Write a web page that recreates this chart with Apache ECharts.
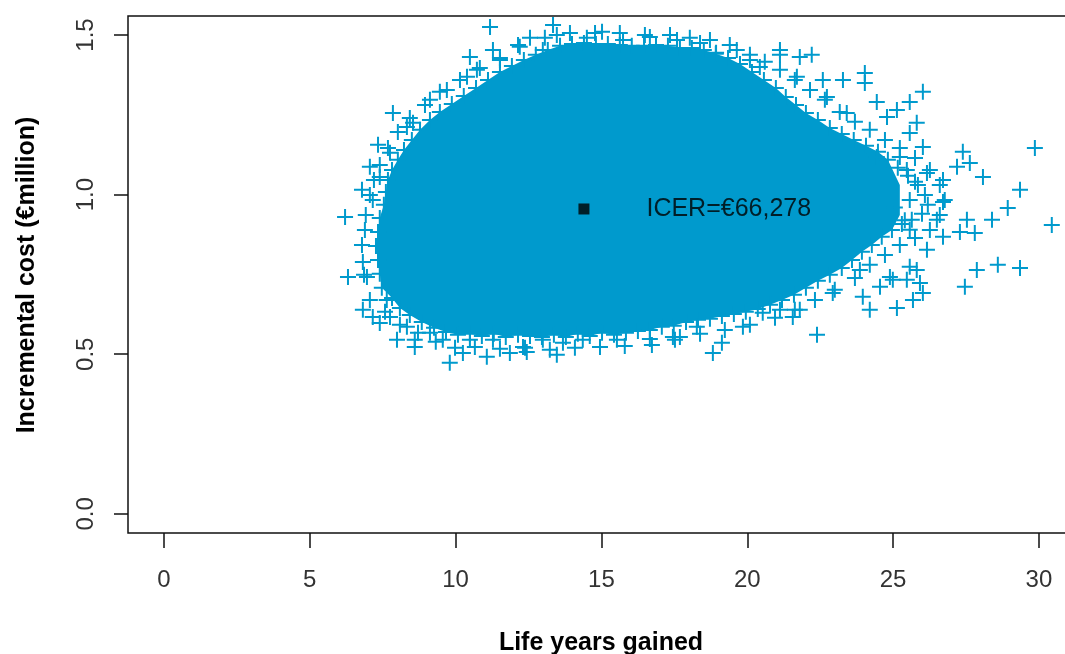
<!DOCTYPE html>
<html>
<head>
    <meta charset="UTF-8">
    <script src="https://cdn.jsdelivr.net/npm/echarts@6/dist/echarts.min.js"></script>
    <style>
        html, body { margin: 0; padding: 0; background: #fff; }
    </style>
</head>
<body>
    <div id="main" style="width: 1065px; height: 654px;"></div>
    <script>
        // ---- data ----
        var xTicks = [0, 5, 10, 15, 20, 25, 30];
        var yTicks = [0, 0.5, 1.0, 1.5];

        // outline of the solid, saturated part of the cloud (life years, cost)
        var coreX = [7.54, 7.40, 7.34, 7.27, 7.34, 7.40, 7.47,
            7.82, 8.09, 8.43, 8.84, 9.26, 9.67,
            10.08, 10.49, 10.90, 11.31, 11.72, 12.14, 12.55, 12.96, 13.37, 13.78, 14.19, 14.60, 15.02, 15.43, 15.84, 16.25, 16.66, 17.07,
            17.48, 17.90, 18.31, 18.72, 19.13, 19.54, 19.95, 20.36,
            20.78, 21.19, 21.60, 22.01, 22.42, 22.83, 23.24, 23.59, 23.93, 24.27, 24.61, 24.96, 25.23, 25.23,
            24.82, 24.48, 24.07, 23.65, 23.24, 22.83, 22.42, 22.01, 21.67, 21.32, 20.98, 20.57, 20.16, 19.75, 19.34,
            18.92, 18.51, 18.10, 17.69, 17.28, 16.87, 16.46, 16.04, 15.63, 15.22, 14.81, 14.40, 13.99,
            13.58, 13.16, 12.75, 12.34, 11.93, 11.52, 11.11, 10.70, 10.28, 9.87, 9.46, 9.12, 8.78, 8.50, 8.23, 8.02, 7.82, 7.68, 7.61];
        var coreY = [0.968, 0.927, 0.883, 0.839, 0.795, 0.752, 0.708,
            0.676, 0.645, 0.623, 0.601, 0.583, 0.570,
            0.561, 0.564, 0.557, 0.564, 0.554, 0.561, 0.557, 0.554, 0.561, 0.554, 0.564, 0.557, 0.567, 0.561, 0.567, 0.573, 0.576, 0.586,
            0.589, 0.601, 0.608, 0.611, 0.620, 0.626, 0.633, 0.642,
            0.655, 0.670, 0.686, 0.708, 0.730, 0.749, 0.770, 0.795, 0.821, 0.842, 0.868, 0.889, 0.936, 1.030,
            1.109, 1.134, 1.153, 1.171, 1.190, 1.209, 1.234, 1.256, 1.281, 1.306, 1.334, 1.359, 1.384, 1.409, 1.428,
            1.441, 1.453, 1.459, 1.459, 1.466, 1.469, 1.466, 1.466, 1.469, 1.472, 1.472, 1.475, 1.472,
            1.466, 1.453, 1.438, 1.422, 1.403, 1.384, 1.359, 1.334, 1.309, 1.284, 1.259, 1.234, 1.203, 1.171, 1.140, 1.109, 1.077, 1.046, 1.008];

        // simulations crowding the edge of the core (inner and outer band)
        var edgeX = [7.54, 7.40, 7.34, 7.27, 7.34, 7.40, 7.47,
            7.82, 8.09, 8.43, 8.84, 9.26, 9.67,
            10.08, 10.49, 10.90, 11.31, 11.72, 12.14, 12.55, 12.96, 13.37, 13.78, 14.19, 14.60, 15.02, 15.43, 15.84, 16.25, 16.66, 17.07,
            17.48, 17.90, 18.31, 18.72, 19.13, 19.54, 19.95, 20.36,
            20.78, 21.19, 21.60, 22.01, 22.42, 22.83, 23.24, 23.59, 23.93, 24.27, 24.61, 24.96, 25.30, 25.64, 25.99, 26.19, 26.09,
            25.85, 25.51, 25.16, 24.82, 24.48, 24.07, 23.65, 23.24, 22.83, 22.42, 22.01, 21.67, 21.32, 20.98, 20.57, 20.16, 19.75, 19.34,
            18.92, 18.51, 18.10, 17.69, 17.28, 16.87, 16.46, 16.04, 15.63, 15.22, 14.81, 14.40, 13.99,
            13.58, 13.16, 12.75, 12.34, 11.93, 11.52, 11.11, 10.70, 10.28, 9.87, 9.46, 9.12, 8.78, 8.50, 8.23, 8.02, 7.82, 7.68, 7.61,
            7.06, 6.92, 6.79, 6.86, 7.06, 7.58, 8.09, 8.71, 9.32,
            9.98, 10.66, 11.52, 12.38, 13.23, 14.09, 14.95, 15.80, 16.66, 17.52, 18.38, 19.23, 20.09, 20.95,
            21.63, 22.32, 23.00, 23.69, 24.20, 24.72, 25.23, 25.75, 26.26, 26.60, 26.77, 26.60,
            26.26, 25.75, 25.23, 24.72, 24.20, 23.69, 23.17, 22.66, 22.15, 21.63, 21.12, 20.60, 20.09, 19.40, 18.72, 18.03, 17.35, 16.49,
            15.63, 14.78, 13.92, 13.06, 12.20, 11.52, 10.83, 10.15, 9.46, 8.95, 8.43, 8.02, 7.68, 7.40, 7.20,
            25.57, 25.75, 25.40, 25.06, 25.57];
        var edgeY = [0.968, 0.927, 0.883, 0.839, 0.795, 0.752, 0.708,
            0.676, 0.645, 0.623, 0.601, 0.583, 0.570,
            0.561, 0.564, 0.557, 0.564, 0.554, 0.561, 0.557, 0.554, 0.561, 0.554, 0.564, 0.557, 0.567, 0.561, 0.567, 0.573, 0.576, 0.586,
            0.589, 0.601, 0.608, 0.611, 0.620, 0.626, 0.633, 0.642,
            0.655, 0.670, 0.686, 0.708, 0.730, 0.749, 0.770, 0.795, 0.821, 0.842, 0.868, 0.889, 0.908, 0.921, 0.940, 0.968, 0.999,
            1.030, 1.059, 1.084, 1.109, 1.134, 1.153, 1.171, 1.190, 1.209, 1.234, 1.256, 1.281, 1.306, 1.334, 1.359, 1.384, 1.409, 1.428,
            1.441, 1.453, 1.459, 1.459, 1.466, 1.469, 1.466, 1.466, 1.469, 1.472, 1.472, 1.475, 1.472,
            1.466, 1.453, 1.438, 1.422, 1.403, 1.384, 1.359, 1.334, 1.309, 1.284, 1.259, 1.234, 1.203, 1.171, 1.140, 1.109, 1.077, 1.046, 1.008,
            0.999, 0.936, 0.842, 0.749, 0.670, 0.633, 0.592, 0.567, 0.539,
            0.520, 0.523, 0.517, 0.520, 0.514, 0.520, 0.523, 0.526, 0.548, 0.545, 0.564, 0.576, 0.592, 0.614,
            0.639, 0.670, 0.702, 0.739, 0.780, 0.811, 0.842, 0.864, 0.889, 0.936, 0.983, 1.030,
            1.077, 1.115, 1.146, 1.171, 1.203, 1.228, 1.259, 1.297, 1.328, 1.359, 1.391, 1.416, 1.438, 1.469, 1.484, 1.491, 1.500, 1.500,
            1.506, 1.506, 1.506, 1.491, 1.463, 1.428, 1.397, 1.359, 1.322, 1.281, 1.240, 1.196, 1.146, 1.093, 1.046,
            0.983, 1.040, 0.920, 0.960, 0.890];

        // individually visible simulations outside the cloud
        var simX = [11.18, 13.34, 13.47, 15.02, 12.55, 11.28, 10.49, 12.14, 12.99, 14.50, 15.74, 16.66, 17.59, 9.12, 9.70, 7.85, 8.33, 7.34,
            7.06, 6.79, 6.21, 6.89, 6.31, 6.82, 6.82, 7.16, 7.64, 10.73, 11.52, 10.39, 8.54, 7.75, 7.40, 7.16, 6.96, 7.40, 7.99, 8.60, 8.60,
            9.80, 10.25, 11.07, 11.86, 12.44, 12.31, 13.47, 13.68, 14.36, 9.12, 9.56, 10.49, 11.28, 12.99, 15.53, 16.73, 17.69, 7.75, 8.33,
            18.82, 19.13, 22.39, 19.85, 20.53, 21.56, 21.80, 24.20, 23.96, 25.13, 24.55, 25.68, 17.45, 18.27, 21.12, 22.93, 23.86, 24.99,
            25.57, 25.92, 24.89, 25.81, 26.16, 27.46, 27.87, 28.59, 29.35, 26.50, 26.71, 27.29, 27.53, 27.80, 28.39, 28.93, 30.44, 26.71,
            25.47, 26.02,
            18.38, 19.64, 21.12, 21.12, 21.80, 22.21, 21.70, 22.59, 23.28, 24.03, 24.03, 26.02, 25.57, 24.44, 25.13, 25.81, 24.79, 25.57,
            26.02, 29.86, 27.39, 27.63, 28.08, 29.35, 26.16, 26.71, 27.19, 25.47, 25.23, 24.44, 23.41, 22.73, 20.43, 18.93, 20.09];
        var simY = [1.525, 1.531, 1.500, 1.510, 1.491, 1.453, 1.431, 1.469, 1.453, 1.491, 1.484, 1.494, 1.484, 1.297, 1.328, 1.256, 1.212, 1.156,
            1.087, 1.015, 0.930, 0.889, 0.742, 0.789, 0.639, 0.617, 0.670, 1.391, 1.422, 1.369, 1.225, 1.131, 1.055, 0.983, 0.742, 0.598, 0.545, 0.523, 0.545,
            0.473, 0.504, 0.492, 0.504, 0.507, 0.523, 0.498, 0.536, 0.545, 0.567, 0.545, 0.545, 0.545, 0.545, 0.545, 0.529, 0.554, 0.617, 0.586,
            0.504, 0.536, 0.561, 0.586, 0.630, 0.617, 0.639, 0.639, 0.680, 0.645, 0.711, 0.670, 0.554, 0.586, 0.639, 0.692, 0.764, 0.733,
            0.774, 0.723, 0.742, 0.764, 0.827, 0.711, 0.764, 0.780, 0.770, 0.921, 0.868, 0.883, 0.921, 0.880, 0.921, 0.958, 0.905, 0.977,
            0.733, 0.692,
            1.475, 1.453, 1.453, 1.438, 1.431, 1.438, 1.369, 1.359, 1.359, 1.381, 1.350, 1.322, 1.290, 1.290, 1.265, 1.225, 1.243, 1.193,
            1.149, 1.146, 1.134, 1.099, 1.055, 1.015, 1.068, 1.046, 1.087, 1.077, 1.118, 1.118, 1.256, 1.306, 1.400, 1.444, 1.422];

        // mean incremental result
        var icerPoint = [14.40, 0.955];
        var icerLabel = 'ICER=€66,278';

        var blue = '#009ACD';
        var font = '"Liberation Sans", Arial, sans-serif';
        var plusPath = 'path://M7,0H9V7H16V9H9V16H7V9H0V7H7Z';

        var simData = edgeX.map(function (x, i) { return [x, edgeY[i]]; })
            .concat(simX.map(function (x, i) { return [x, simY[i]]; }));

        var myChart = echarts.init(document.getElementById('main'));

        var option = {
            animation: false,
            grid: {
                left: 128,
                top: 16,
                width: 969,
                height: 517,
                outerBoundsMode: 'none',
                show: true,
                borderColor: '#111',
                borderWidth: 1.5,
                backgroundColor: 'transparent'
            },
            xAxis: {
                type: 'value',
                min: -1.232,
                max: 31.99,
                splitLine: { show: false },
                axisLine: { show: false, onZero: false },
                axisTick: {
                    show: true,
                    customValues: xTicks,
                    length: 15,
                    lineStyle: { color: '#111', width: 1.5 }
                },
                axisLabel: {
                    customValues: xTicks,
                    fontSize: 24,
                    fontFamily: font,
                    color: '#333',
                    margin: 35
                }
            },
            yAxis: {
                type: 'value',
                min: -0.06,
                max: 1.5595,
                splitLine: { show: false },
                axisLine: { show: false, onZero: false },
                axisTick: {
                    show: true,
                    customValues: yTicks,
                    length: 14,
                    lineStyle: { color: '#111', width: 1.5 }
                },
                axisLabel: {
                    customValues: yTicks,
                    rotate: 90,
                    fontSize: 24,
                    fontFamily: font,
                    color: '#333',
                    margin: 30,
                    formatter: function (v) { return v.toFixed(1); }
                }
            },
            graphic: [
                {
                    type: 'text',
                    x: 601,
                    y: 643,
                    style: {
                        text: 'Life years gained',
                        font: 'bold 25px ' + font,
                        fill: '#000',
                        textAlign: 'center',
                        textVerticalAlign: 'middle'
                    }
                },
                {
                    type: 'text',
                    x: 27,
                    y: 275,
                    rotation: Math.PI / 2,
                    style: {
                        text: 'Incremental cost (€million)',
                        font: 'bold 25px ' + font,
                        fill: '#000',
                        textAlign: 'center',
                        textVerticalAlign: 'middle'
                    }
                }
            ],
            series: [
                {
                    // dense core of the simulation cloud
                    type: 'custom',
                    silent: true,
                    data: [[coreX[0], coreY[0]]],
                    renderItem: function (params, api) {
                        var pts = coreX.map(function (x, i) { return api.coord([x, coreY[i]]); });
                        return {
                            type: 'polygon',
                            shape: { points: pts },
                            style: { fill: blue }
                        };
                    },
                    z: 1
                },
                {
                    type: 'scatter',
                    symbol: plusPath,
                    symbolSize: 16,
                    itemStyle: { color: blue, opacity: 1 },
                    silent: true,
                    data: simData,
                    z: 2
                },
                {
                    type: 'scatter',
                    symbol: 'rect',
                    symbolSize: 11,
                    itemStyle: { color: '#000' },
                    label: {
                        show: true,
                        position: 'right',
                        distance: 57,
                        formatter: icerLabel,
                        fontSize: 25,
                        fontFamily: font,
                        color: '#000'
                    },
                    data: [icerPoint],
                    z: 3
                }
            ]
        };

        myChart.setOption(option);
    </script>
</body>
</html>
